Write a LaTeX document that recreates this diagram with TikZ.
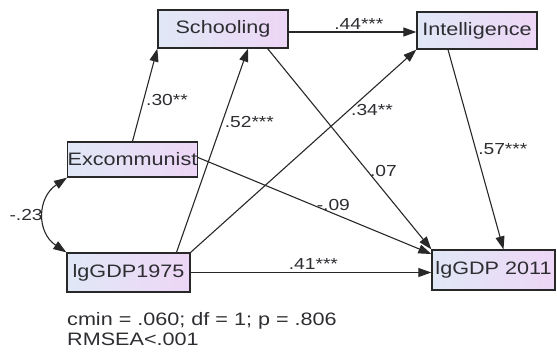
\documentclass[tikz,border=0pt]{standalone}
\usepackage{fontspec}
\setmainfont[FakeStretch=1.2]{Liberation Sans}
\usepackage{tikz}
\usetikzlibrary{arrows.meta, positioning, calc}
\definecolor{semboxleft}{RGB}{224,232,246}
\definecolor{semboxright}{RGB}{238,214,246}
\definecolor{semline}{RGB}{40,40,40}
\definecolor{semtext}{RGB}{45,45,50}

\begin{document}
\begin{tikzpicture}[
    x=1pt, y=-1pt,
    var/.style = {
      draw=semline, line width=1.3pt, left color=semboxleft, right color=semboxright,
      minimum height=37pt, inner sep=0pt,
      font=\fontsize{18}{18}\selectfont, text=semtext
    },
    path/.style = {-{Triangle[length=13pt,width=9pt]}, line width=1.1pt, semline},
    cov/.style = {{Triangle[length=13pt,width=9pt]}-{Triangle[length=13pt,width=9pt]}, line width=1.1pt, semline},
    coef/.style = {font=\fontsize{16}{16}\selectfont, text=semtext, inner sep=2pt},
    fit/.style = {font=\fontsize{18}{20}\selectfont, text=semtext, align=left, anchor=north west, inner sep=0pt},
  ]
    \useasboundingbox (0,0) rectangle (557,356);

    % Observed variables
    \node[var, minimum width=123pt, minimum height=39pt] (gdp75) at (128.5,272.5) {lgGDP1975};
    \node[var, minimum width=129pt, minimum height=35pt] (excom) at (132.5,159.5) {Excommunist};
    \node[var, minimum width=130pt, minimum height=38pt] (school) at (223,29) {Schooling};
    \node[var, minimum width=120pt] (intel) at (477,30.5) {Intelligence};
    \node[var, minimum width=123pt, minimum height=40pt] (gdp11) at (493.5,270) {lgGDP 2011};

    % Paths into Schooling
    \draw[path] (excom.north) -- (school.south west)
      node[coef, pos=0.45, right] {.30**};
    \draw[path] ([xshift=48pt]gdp75.north) -- ([xshift=25pt]school.south)
      node[coef, pos=0.64, right] {.52***};

    % Paths into Intelligence
    \draw[path] ([yshift=-3pt]school.east) -- ([yshift=-3pt]school.east -| intel.west)
      node[coef, pos=0.55, above] {.44***};
    \draw[path] (gdp75.north east) -- (intel.south west)
      node[coef, pos=0.7, right] {.34**};

    % Paths into lgGDP 2011
    \draw[path] ([xshift=-21pt]school.south east) -- (gdp11.north west)
      node[coef, pos=0.61, right] {.07};
    \draw[path] ([xshift=-29pt]intel.south) -- ([xshift=10pt]gdp11.north)
      node[coef, pos=0.5, right] {.57***};
    \draw[path] ([yshift=2pt]excom.east) -- ([yshift=16pt]gdp11.west)
      node[coef, pos=0.58, above] {-.09};
    \draw[path] (gdp75.east) -- (gdp75.east -| gdp11.west)
      node[coef, pos=0.51, above] {.41***};

    % Covariance
    \draw[cov] (excom.south west) .. controls +(-30,20) and +(-30,-20) .. (gdp75.north west)
      node[coef, pos=0.5, left, inner sep=1pt] {-.23};

    % Fit statistics
    \node[fit] (fitstats) at (67,312) {cmin = .060; df = 1; p = .806\\RMSEA<.001};
  \end{tikzpicture}
\end{document}
